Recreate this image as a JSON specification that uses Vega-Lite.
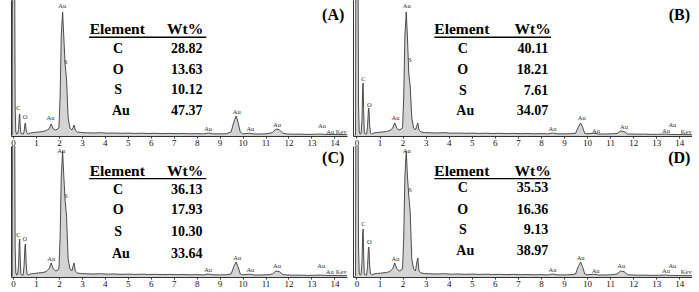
{
"$schema": "https://vega.github.io/schema/vega-lite/v6.json",
"padding": {"left": 10, "top": 0, "right": 0, "bottom": 0},
"background": "white",
"config": {
 "view": {"stroke": null},
 "axisX": {"domainColor": "#333", "tickColor": "#333", "tickSize": 2, "labelFont": "Liberation Serif", "labelFontSize": 9, "labelColor": "#111", "labelPadding": 0, "grid": false, "labelFlush": false, "labelOverlap": false, "tickCount": 15},
 "axisY": {"domainColor": "#333", "ticks": false, "labels": false, "grid": false}
},
"datasets": {
 "spec": [
  {"x": -0.09, "a": 0, "b": 0, "c": 0, "d": 0},
  {"x": -0.04, "a": 1, "b": 1, "c": 1, "d": 1},
  {"x": -0.02, "a": 300, "b": 300, "c": 300, "d": 300},
  {"x": 0.05, "a": 300, "b": 300, "c": 300, "d": 300},
  {"x": 0.09, "a": 30, "b": 30, "c": 30, "d": 30},
  {"x": 0.12, "a": 4, "b": 4, "c": 4, "d": 4},
  {"x": 0.16, "a": 2, "b": 2, "c": 2, "d": 2},
  {"x": 0.2, "a": 2.5, "b": 2.5, "c": 2.5, "d": 2.5},
  {"x": 0.24, "a": 6.6, "b": 15.9, "c": 11.4, "d": 14.4},
  {"x": 0.27, "a": 19.8, "b": 47.7, "c": 34.2, "d": 43.2},
  {"x": 0.29, "a": 22, "b": 53, "c": 38, "d": 48},
  {"x": 0.31, "a": 11, "b": 26.5, "c": 19, "d": 24},
  {"x": 0.34, "a": 3, "b": 3, "c": 3, "d": 3},
  {"x": 0.38, "a": 2, "b": 2, "c": 2, "d": 2},
  {"x": 0.44, "a": 2, "b": 2, "c": 2, "d": 2},
  {"x": 0.48, "a": 4.6, "b": 9.8, "c": 11.6, "d": 10.5},
  {"x": 0.52, "a": 12.4, "b": 26.6, "c": 31.4, "d": 28.5},
  {"x": 0.54, "a": 13, "b": 28, "c": 33, "d": 30},
  {"x": 0.57, "a": 5.2, "b": 11.2, "c": 13.2, "d": 12},
  {"x": 0.61, "a": 3, "b": 3, "c": 3, "d": 3},
  {"x": 0.66, "a": 2, "b": 2, "c": 2, "d": 2},
  {"x": 0.75, "a": 3, "b": 3, "c": 3, "d": 3},
  {"x": 0.9, "a": 3.5, "b": 3.5, "c": 3.5, "d": 3.5},
  {"x": 1.1, "a": 4, "b": 4, "c": 4, "d": 4},
  {"x": 1.3, "a": 4.5, "b": 4.5, "c": 4.5, "d": 4.5},
  {"x": 1.45, "a": 5.5, "b": 5.5, "c": 5.5, "d": 5.5},
  {"x": 1.57, "a": 7.2, "b": 7.8, "c": 8.4, "d": 8.4},
  {"x": 1.66, "a": 12, "b": 13, "c": 14, "d": 14},
  {"x": 1.75, "a": 7.2, "b": 7.8, "c": 8.4, "d": 8.4},
  {"x": 1.85, "a": 6, "b": 6, "c": 6, "d": 6},
  {"x": 1.95, "a": 7, "b": 7, "c": 7, "d": 7},
  {"x": 2.0, "a": 9, "b": 9, "c": 9, "d": 9},
  {"x": 2.05, "a": 40, "b": 40, "c": 40, "d": 40},
  {"x": 2.1, "a": 100, "b": 100, "c": 100, "d": 100},
  {"x": 2.16, "a": 124, "b": 124, "c": 126, "d": 126},
  {"x": 2.21, "a": 99, "b": 99, "c": 101, "d": 101},
  {"x": 2.27, "a": 71, "b": 62, "c": 76, "d": 81},
  {"x": 2.33, "a": 57, "b": 50, "c": 61, "d": 65},
  {"x": 2.4, "a": 18, "b": 18, "c": 18, "d": 18},
  {"x": 2.48, "a": 8, "b": 8, "c": 8, "d": 8},
  {"x": 2.56, "a": 6, "b": 6, "c": 6, "d": 6},
  {"x": 2.62, "a": 8.8, "b": 10.4, "c": 11.2, "d": 15.2},
  {"x": 2.66, "a": 11, "b": 13, "c": 14, "d": 19},
  {"x": 2.71, "a": 6, "b": 6, "c": 6, "d": 6},
  {"x": 2.8, "a": 4, "b": 4, "c": 4, "d": 4},
  {"x": 2.95, "a": 3.5, "b": 3.5, "c": 3.5, "d": 3.5},
  {"x": 3.2, "a": 3.2, "b": 3.2, "c": 3.2, "d": 3.2},
  {"x": 3.5, "a": 3, "b": 3, "c": 3, "d": 3},
  {"x": 3.8, "a": 3.3, "b": 3.3, "c": 3.3, "d": 3.3},
  {"x": 4.1, "a": 2.8, "b": 2.8, "c": 2.8, "d": 2.8},
  {"x": 4.4, "a": 3, "b": 3, "c": 3, "d": 3},
  {"x": 4.7, "a": 2.7, "b": 2.7, "c": 2.7, "d": 2.7},
  {"x": 5.0, "a": 2.9, "b": 2.9, "c": 2.9, "d": 2.9},
  {"x": 5.3, "a": 2.6, "b": 2.6, "c": 2.6, "d": 2.6},
  {"x": 5.6, "a": 2.8, "b": 2.8, "c": 2.8, "d": 2.8},
  {"x": 5.9, "a": 2.5, "b": 2.5, "c": 2.5, "d": 2.5},
  {"x": 6.2, "a": 2.7, "b": 2.7, "c": 2.7, "d": 2.7},
  {"x": 6.5, "a": 2.4, "b": 2.4, "c": 2.4, "d": 2.4},
  {"x": 6.8, "a": 2.6, "b": 2.6, "c": 2.6, "d": 2.6},
  {"x": 7.1, "a": 2.3, "b": 2.3, "c": 2.3, "d": 2.3},
  {"x": 7.4, "a": 2.5, "b": 2.5, "c": 2.5, "d": 2.5},
  {"x": 7.7, "a": 2.2, "b": 2.2, "c": 2.2, "d": 2.2},
  {"x": 8.0, "a": 2.4, "b": 2.4, "c": 2.4, "d": 2.4},
  {"x": 8.3, "a": 2.1, "b": 2.1, "c": 2.1, "d": 2.1},
  {"x": 8.5, "a": 3, "b": 3, "c": 3, "d": 3},
  {"x": 8.7, "a": 2.2, "b": 2.2, "c": 2.2, "d": 2.2},
  {"x": 9.0, "a": 2.1, "b": 2.1, "c": 2.1, "d": 2.1},
  {"x": 9.3, "a": 2.3, "b": 2.3, "c": 2.3, "d": 2.3},
  {"x": 9.5, "a": 4, "b": 2.6, "c": 3, "d": 3},
  {"x": 9.62, "a": 14, "b": 9.1, "c": 10.5, "d": 10.5},
  {"x": 9.72, "a": 20, "b": 13, "c": 15, "d": 15},
  {"x": 9.8, "a": 14, "b": 9.1, "c": 10.5, "d": 10.5},
  {"x": 9.9, "a": 4, "b": 2.6, "c": 3, "d": 3},
  {"x": 10.0, "a": 2.2, "b": 2.2, "c": 2.2, "d": 2.2},
  {"x": 10.3, "a": 2.8, "b": 2.8, "c": 2.8, "d": 2.8},
  {"x": 10.5, "a": 2, "b": 2, "c": 2, "d": 2},
  {"x": 10.8, "a": 2, "b": 2, "c": 2, "d": 2},
  {"x": 11.1, "a": 2.3, "b": 2.3, "c": 2.3, "d": 2.3},
  {"x": 11.3, "a": 3.5, "b": 2.5, "c": 3, "d": 3},
  {"x": 11.45, "a": 7, "b": 5, "c": 6, "d": 6},
  {"x": 11.6, "a": 6.3, "b": 4.5, "c": 5.4, "d": 5.4},
  {"x": 11.75, "a": 2.8, "b": 2, "c": 2.4, "d": 2.4},
  {"x": 11.95, "a": 2, "b": 2, "c": 2, "d": 2},
  {"x": 12.2, "a": 1.8, "b": 1.8, "c": 1.8, "d": 1.8},
  {"x": 12.5, "a": 1.9, "b": 1.9, "c": 1.9, "d": 1.9},
  {"x": 12.8, "a": 1.6, "b": 1.6, "c": 1.6, "d": 1.6},
  {"x": 13.1, "a": 1.7, "b": 1.7, "c": 1.7, "d": 1.7},
  {"x": 13.4, "a": 2, "b": 2, "c": 2, "d": 2},
  {"x": 13.6, "a": 1.6, "b": 1.6, "c": 1.6, "d": 1.6},
  {"x": 13.9, "a": 1.5, "b": 1.5, "c": 1.5, "d": 1.5},
  {"x": 14.2, "a": 1.4, "b": 1.4, "c": 1.4, "d": 1.4},
  {"x": 14.55, "a": 1.3, "b": 1.3, "c": 1.3, "d": 1.3}
 ],
 "lab": [
  {"p": "A", "k": "pk", "x": 0.23, "y": 28, "t": "C"},
  {"p": "A", "k": "pk", "x": 0.52, "y": 19, "t": "O"},
  {"p": "A", "k": "pk", "x": 1.63, "y": 18, "t": "Au"},
  {"p": "A", "k": "pk", "x": 2.14, "y": 130, "t": "Au"},
  {"p": "A", "k": "pk", "x": 2.3, "y": 74, "t": "S"},
  {"p": "A", "k": "pk", "x": 8.5, "y": 7, "t": "Au"},
  {"p": "A", "k": "pk", "x": 9.75, "y": 24, "t": "Au"},
  {"p": "A", "k": "pk", "x": 10.34, "y": 7, "t": "Au"},
  {"p": "A", "k": "pk", "x": 11.5, "y": 11, "t": "Au"},
  {"p": "A", "k": "pk", "x": 13.46, "y": 10, "t": "Au"},
  {"p": "A", "k": "pk", "x": 13.82, "y": 4.5, "t": "Au"},
  {"p": "A", "k": "pk", "x": 14.3, "y": 4.5, "t": "Kev"},
  {"p": "A", "k": "hd", "x": 4.54, "y": 107, "t": "Element"},
  {"p": "A", "k": "hd", "x": 7.5, "y": 107, "t": "Wt%"},
  {"p": "A", "k": "ul", "x": 3.31, "x2": 8.42, "y": 98.7},
  {"p": "A", "k": "cl", "x": 4.58, "y": 87, "t": "C"},
  {"p": "A", "k": "cl", "x": 4.58, "y": 66, "t": "O"},
  {"p": "A", "k": "cl", "x": 4.58, "y": 46, "t": "S"},
  {"p": "A", "k": "cl", "x": 4.7, "y": 25, "t": "Au"},
  {"p": "A", "k": "cr", "x": 8.25, "y": 87, "t": "28.82"},
  {"p": "A", "k": "cr", "x": 8.25, "y": 66, "t": "13.63"},
  {"p": "A", "k": "cr", "x": 8.25, "y": 46, "t": "10.12"},
  {"p": "A", "k": "cr", "x": 8.25, "y": 25, "t": "47.37"},
  {"p": "A", "k": "tg", "x": 13.95, "y": 121, "t": "(A)"},

  {"p": "B", "k": "pk", "x": 0.3, "y": 57, "t": "C"},
  {"p": "B", "k": "pk", "x": 0.56, "y": 31, "t": "O"},
  {"p": "B", "k": "pk", "x": 1.69, "y": 18, "t": "Au"},
  {"p": "B", "k": "pk", "x": 2.18, "y": 130, "t": "Au"},
  {"p": "B", "k": "pk", "x": 2.32, "y": 76, "t": "S"},
  {"p": "B", "k": "pk", "x": 8.5, "y": 7, "t": "Au"},
  {"p": "B", "k": "pk", "x": 9.77, "y": 18, "t": "Au"},
  {"p": "B", "k": "pk", "x": 10.39, "y": 5, "t": "Au"},
  {"p": "B", "k": "pk", "x": 11.6, "y": 9, "t": "Au"},
  {"p": "B", "k": "pk", "x": 13.42, "y": 5, "t": "Au"},
  {"p": "B", "k": "pk", "x": 13.7, "y": 11, "t": "Au"},
  {"p": "B", "k": "pk", "x": 14.3, "y": 4, "t": "Kev"},
  {"p": "B", "k": "hd", "x": 4.57, "y": 107, "t": "Element"},
  {"p": "B", "k": "hd", "x": 7.64, "y": 107, "t": "Wt%"},
  {"p": "B", "k": "ul", "x": 3.38, "x2": 8.44, "y": 98.7},
  {"p": "B", "k": "cl", "x": 4.61, "y": 87.5, "t": "C"},
  {"p": "B", "k": "cl", "x": 4.61, "y": 66, "t": "O"},
  {"p": "B", "k": "cl", "x": 4.61, "y": 45.5, "t": "S"},
  {"p": "B", "k": "cl", "x": 4.72, "y": 25, "t": "Au"},
  {"p": "B", "k": "cr", "x": 8.32, "y": 87.5, "t": "40.11"},
  {"p": "B", "k": "cr", "x": 8.32, "y": 66, "t": "18.21"},
  {"p": "B", "k": "cr", "x": 8.32, "y": 45.5, "t": "7.61"},
  {"p": "B", "k": "cr", "x": 8.32, "y": 25, "t": "34.07"},
  {"p": "B", "k": "tg", "x": 14.0, "y": 121, "t": "(B)"},

  {"p": "C", "k": "pk", "x": 0.23, "y": 42, "t": "C"},
  {"p": "C", "k": "pk", "x": 0.51, "y": 38, "t": "O"},
  {"p": "C", "k": "pk", "x": 1.66, "y": 18, "t": "Au"},
  {"p": "C", "k": "pk", "x": 2.1, "y": 126, "t": "Au"},
  {"p": "C", "k": "pk", "x": 2.31, "y": 81, "t": "S"},
  {"p": "C", "k": "pk", "x": 8.5, "y": 7, "t": "Au"},
  {"p": "C", "k": "pk", "x": 9.77, "y": 19, "t": "Au"},
  {"p": "C", "k": "pk", "x": 10.34, "y": 7, "t": "Au"},
  {"p": "C", "k": "pk", "x": 11.5, "y": 11, "t": "Au"},
  {"p": "C", "k": "pk", "x": 13.43, "y": 11, "t": "Au"},
  {"p": "C", "k": "pk", "x": 13.8, "y": 5, "t": "Au"},
  {"p": "C", "k": "pk", "x": 14.3, "y": 5, "t": "Kev"},
  {"p": "C", "k": "hd", "x": 4.54, "y": 105.7, "t": "Element"},
  {"p": "C", "k": "hd", "x": 7.5, "y": 105.7, "t": "Wt%"},
  {"p": "C", "k": "ul", "x": 3.31, "x2": 8.42, "y": 98.4},
  {"p": "C", "k": "cl", "x": 4.58, "y": 87.4, "t": "C"},
  {"p": "C", "k": "cl", "x": 4.58, "y": 66.7, "t": "O"},
  {"p": "C", "k": "cl", "x": 4.58, "y": 44.7, "t": "S"},
  {"p": "C", "k": "cl", "x": 4.7, "y": 23.4, "t": "Au"},
  {"p": "C", "k": "cr", "x": 8.25, "y": 87.4, "t": "36.13"},
  {"p": "C", "k": "cr", "x": 8.25, "y": 66.7, "t": "17.93"},
  {"p": "C", "k": "cr", "x": 8.25, "y": 44.7, "t": "10.30"},
  {"p": "C", "k": "cr", "x": 8.25, "y": 23.4, "t": "33.64"},
  {"p": "C", "k": "tg", "x": 13.95, "y": 119, "t": "(C)"},

  {"p": "D", "k": "pk", "x": 0.3, "y": 53, "t": "C"},
  {"p": "D", "k": "pk", "x": 0.56, "y": 35, "t": "O"},
  {"p": "D", "k": "pk", "x": 1.69, "y": 18, "t": "Au"},
  {"p": "D", "k": "pk", "x": 2.18, "y": 126, "t": "Au"},
  {"p": "D", "k": "pk", "x": 2.32, "y": 87, "t": "S"},
  {"p": "D", "k": "pk", "x": 8.5, "y": 7, "t": "Au"},
  {"p": "D", "k": "pk", "x": 9.72, "y": 19, "t": "Au"},
  {"p": "D", "k": "pk", "x": 10.37, "y": 6, "t": "Au"},
  {"p": "D", "k": "pk", "x": 11.48, "y": 11, "t": "Au"},
  {"p": "D", "k": "pk", "x": 13.42, "y": 6, "t": "Au"},
  {"p": "D", "k": "pk", "x": 13.7, "y": 11, "t": "Au"},
  {"p": "D", "k": "pk", "x": 14.3, "y": 5, "t": "Kev"},
  {"p": "D", "k": "hd", "x": 4.57, "y": 105.7, "t": "Element"},
  {"p": "D", "k": "hd", "x": 7.64, "y": 105.7, "t": "Wt%"},
  {"p": "D", "k": "ul", "x": 3.38, "x2": 8.44, "y": 98.4},
  {"p": "D", "k": "cl", "x": 4.61, "y": 89, "t": "C"},
  {"p": "D", "k": "cl", "x": 4.61, "y": 67, "t": "O"},
  {"p": "D", "k": "cl", "x": 4.61, "y": 46.7, "t": "S"},
  {"p": "D", "k": "cl", "x": 4.72, "y": 26.4, "t": "Au"},
  {"p": "D", "k": "cr", "x": 8.32, "y": 89, "t": "35.53"},
  {"p": "D", "k": "cr", "x": 8.32, "y": 67, "t": "16.36"},
  {"p": "D", "k": "cr", "x": 8.32, "y": 46.7, "t": "9.13"},
  {"p": "D", "k": "cr", "x": 8.32, "y": 26.4, "t": "38.97"},
  {"p": "D", "k": "tg", "x": 14.0, "y": 119, "t": "(D)"}
 ]
},
"columns": 2,
"spacing": {"row": 10, "column": 6},
"bounds": "flush",
"concat": [
 {"width": 336, "height": 136, "layer": [
  {"data": {"name": "spec"}, "mark": {"type": "area", "clip": true, "color": "#c2c2c2", "line": {"color": "#3a3a3a", "strokeWidth": 0.9}},
   "encoding": {"x": {"field": "x", "type": "quantitative", "title": null, "scale": {"domain": [-0.09, 14.55], "nice": false, "zero": false}, "axis": {"values": [0,1,2,3,4,5,6,7,8,9,10,11,12,13,14], "labelOverlap": false}},
                "y": {"field": "a", "type": "quantitative", "title": null, "scale": {"domain": [0, 136], "nice": false}}}},
  {"data": {"name": "lab"}, "transform": [{"filter": "datum.p == 'A' && datum.k == 'pk'"}], "mark": {"type": "text", "font": "Liberation Serif", "fontSize": 6.5, "fill": "#333"},
   "encoding": {"x": {"field": "x", "type": "quantitative", "title": null, "axis": {"values": [0,1,2,3,4,5,6,7,8,9,10,11,12,13,14], "labelOverlap": false}}, "y": {"field": "y", "type": "quantitative", "title": null}, "text": {"field": "t"}}},
  {"data": {"name": "lab"}, "transform": [{"filter": "datum.p == 'A' && datum.k == 'hd'"}], "mark": {"type": "text", "font": "Liberation Serif", "fontWeight": "bold", "fontSize": 15.5, "color": "#000"},
   "encoding": {"x": {"field": "x", "type": "quantitative", "title": null, "axis": {"values": [0,1,2,3,4,5,6,7,8,9,10,11,12,13,14], "labelOverlap": false}}, "y": {"field": "y", "type": "quantitative", "title": null}, "text": {"field": "t"}}},
  {"data": {"name": "lab"}, "transform": [{"filter": "datum.p == 'A' && datum.k == 'ul'"}], "mark": {"type": "rule", "color": "#000", "strokeWidth": 1.4},
   "encoding": {"x": {"field": "x", "type": "quantitative", "title": null, "axis": {"values": [0,1,2,3,4,5,6,7,8,9,10,11,12,13,14], "labelOverlap": false}}, "x2": {"field": "x2"}, "y": {"field": "y", "type": "quantitative", "title": null}}},
  {"data": {"name": "lab"}, "transform": [{"filter": "datum.p == 'A' && datum.k == 'cl'"}], "mark": {"type": "text", "font": "Liberation Serif", "fontWeight": "bold", "fontSize": 14, "color": "#000", "align": "center"},
   "encoding": {"x": {"field": "x", "type": "quantitative", "title": null, "axis": {"values": [0,1,2,3,4,5,6,7,8,9,10,11,12,13,14], "labelOverlap": false}}, "y": {"field": "y", "type": "quantitative", "title": null}, "text": {"field": "t"}}},
  {"data": {"name": "lab"}, "transform": [{"filter": "datum.p == 'A' && datum.k == 'cr'"}], "mark": {"type": "text", "font": "Liberation Serif", "fontWeight": "bold", "fontSize": 14, "color": "#000", "align": "right"},
   "encoding": {"x": {"field": "x", "type": "quantitative", "title": null, "axis": {"values": [0,1,2,3,4,5,6,7,8,9,10,11,12,13,14], "labelOverlap": false}}, "y": {"field": "y", "type": "quantitative", "title": null}, "text": {"field": "t"}}},
  {"data": {"name": "lab"}, "transform": [{"filter": "datum.p == 'A' && datum.k == 'tg'"}], "mark": {"type": "text", "font": "Liberation Serif", "fontWeight": "bold", "fontSize": 16, "color": "#000"},
   "encoding": {"x": {"field": "x", "type": "quantitative", "title": null, "axis": {"values": [0,1,2,3,4,5,6,7,8,9,10,11,12,13,14], "labelOverlap": false}}, "y": {"field": "y", "type": "quantitative", "title": null}, "text": {"field": "t"}}}
 ]},
 {"width": 339, "height": 136, "layer": [
  {"data": {"name": "spec"}, "mark": {"type": "area", "clip": true, "color": "#c2c2c2", "line": {"color": "#3a3a3a", "strokeWidth": 0.9}},
   "encoding": {"x": {"field": "x", "type": "quantitative", "title": null, "scale": {"domain": [-0.15, 14.55], "nice": false, "zero": false}, "axis": {"values": [0,1,2,3,4,5,6,7,8,9,10,11,12,13,14], "labelOverlap": false}},
                "y": {"field": "b", "type": "quantitative", "title": null, "scale": {"domain": [0, 136], "nice": false}}}},
  {"data": {"name": "lab"}, "transform": [{"filter": "datum.p == 'B' && datum.k == 'pk'"}], "mark": {"type": "text", "font": "Liberation Serif", "fontSize": 6.5, "fill": "#333"},
   "encoding": {"x": {"field": "x", "type": "quantitative", "title": null, "axis": {"values": [0,1,2,3,4,5,6,7,8,9,10,11,12,13,14], "labelOverlap": false}}, "y": {"field": "y", "type": "quantitative", "title": null}, "text": {"field": "t"}}},
  {"data": {"name": "lab"}, "transform": [{"filter": "datum.p == 'B' && datum.k == 'hd'"}], "mark": {"type": "text", "font": "Liberation Serif", "fontWeight": "bold", "fontSize": 15.5, "color": "#000"},
   "encoding": {"x": {"field": "x", "type": "quantitative", "title": null, "axis": {"values": [0,1,2,3,4,5,6,7,8,9,10,11,12,13,14], "labelOverlap": false}}, "y": {"field": "y", "type": "quantitative", "title": null}, "text": {"field": "t"}}},
  {"data": {"name": "lab"}, "transform": [{"filter": "datum.p == 'B' && datum.k == 'ul'"}], "mark": {"type": "rule", "color": "#000", "strokeWidth": 1.4},
   "encoding": {"x": {"field": "x", "type": "quantitative", "title": null, "axis": {"values": [0,1,2,3,4,5,6,7,8,9,10,11,12,13,14], "labelOverlap": false}}, "x2": {"field": "x2"}, "y": {"field": "y", "type": "quantitative", "title": null}}},
  {"data": {"name": "lab"}, "transform": [{"filter": "datum.p == 'B' && datum.k == 'cl'"}], "mark": {"type": "text", "font": "Liberation Serif", "fontWeight": "bold", "fontSize": 14, "color": "#000", "align": "center"},
   "encoding": {"x": {"field": "x", "type": "quantitative", "title": null, "axis": {"values": [0,1,2,3,4,5,6,7,8,9,10,11,12,13,14], "labelOverlap": false}}, "y": {"field": "y", "type": "quantitative", "title": null}, "text": {"field": "t"}}},
  {"data": {"name": "lab"}, "transform": [{"filter": "datum.p == 'B' && datum.k == 'cr'"}], "mark": {"type": "text", "font": "Liberation Serif", "fontWeight": "bold", "fontSize": 14, "color": "#000", "align": "right"},
   "encoding": {"x": {"field": "x", "type": "quantitative", "title": null, "axis": {"values": [0,1,2,3,4,5,6,7,8,9,10,11,12,13,14], "labelOverlap": false}}, "y": {"field": "y", "type": "quantitative", "title": null}, "text": {"field": "t"}}},
  {"data": {"name": "lab"}, "transform": [{"filter": "datum.p == 'B' && datum.k == 'tg'"}], "mark": {"type": "text", "font": "Liberation Serif", "fontWeight": "bold", "fontSize": 16, "color": "#000"},
   "encoding": {"x": {"field": "x", "type": "quantitative", "title": null, "axis": {"values": [0,1,2,3,4,5,6,7,8,9,10,11,12,13,14], "labelOverlap": false}}, "y": {"field": "y", "type": "quantitative", "title": null}, "text": {"field": "t"}}}
 ]},
 {"width": 336, "height": 131, "layer": [
  {"data": {"name": "spec"}, "mark": {"type": "area", "clip": true, "color": "#c2c2c2", "line": {"color": "#3a3a3a", "strokeWidth": 0.9}},
   "encoding": {"x": {"field": "x", "type": "quantitative", "title": null, "scale": {"domain": [-0.09, 14.55], "nice": false, "zero": false}, "axis": {"values": [0,1,2,3,4,5,6,7,8,9,10,11,12,13,14], "labelOverlap": false}},
                "y": {"field": "c", "type": "quantitative", "title": null, "scale": {"domain": [0, 131], "nice": false}}}},
  {"data": {"name": "lab"}, "transform": [{"filter": "datum.p == 'C' && datum.k == 'pk'"}], "mark": {"type": "text", "font": "Liberation Serif", "fontSize": 6.5, "fill": "#333"},
   "encoding": {"x": {"field": "x", "type": "quantitative", "title": null, "axis": {"values": [0,1,2,3,4,5,6,7,8,9,10,11,12,13,14], "labelOverlap": false}}, "y": {"field": "y", "type": "quantitative", "title": null}, "text": {"field": "t"}}},
  {"data": {"name": "lab"}, "transform": [{"filter": "datum.p == 'C' && datum.k == 'hd'"}], "mark": {"type": "text", "font": "Liberation Serif", "fontWeight": "bold", "fontSize": 15.5, "color": "#000"},
   "encoding": {"x": {"field": "x", "type": "quantitative", "title": null, "axis": {"values": [0,1,2,3,4,5,6,7,8,9,10,11,12,13,14], "labelOverlap": false}}, "y": {"field": "y", "type": "quantitative", "title": null}, "text": {"field": "t"}}},
  {"data": {"name": "lab"}, "transform": [{"filter": "datum.p == 'C' && datum.k == 'ul'"}], "mark": {"type": "rule", "color": "#000", "strokeWidth": 1.4},
   "encoding": {"x": {"field": "x", "type": "quantitative", "title": null, "axis": {"values": [0,1,2,3,4,5,6,7,8,9,10,11,12,13,14], "labelOverlap": false}}, "x2": {"field": "x2"}, "y": {"field": "y", "type": "quantitative", "title": null}}},
  {"data": {"name": "lab"}, "transform": [{"filter": "datum.p == 'C' && datum.k == 'cl'"}], "mark": {"type": "text", "font": "Liberation Serif", "fontWeight": "bold", "fontSize": 14, "color": "#000", "align": "center"},
   "encoding": {"x": {"field": "x", "type": "quantitative", "title": null, "axis": {"values": [0,1,2,3,4,5,6,7,8,9,10,11,12,13,14], "labelOverlap": false}}, "y": {"field": "y", "type": "quantitative", "title": null}, "text": {"field": "t"}}},
  {"data": {"name": "lab"}, "transform": [{"filter": "datum.p == 'C' && datum.k == 'cr'"}], "mark": {"type": "text", "font": "Liberation Serif", "fontWeight": "bold", "fontSize": 14, "color": "#000", "align": "right"},
   "encoding": {"x": {"field": "x", "type": "quantitative", "title": null, "axis": {"values": [0,1,2,3,4,5,6,7,8,9,10,11,12,13,14], "labelOverlap": false}}, "y": {"field": "y", "type": "quantitative", "title": null}, "text": {"field": "t"}}},
  {"data": {"name": "lab"}, "transform": [{"filter": "datum.p == 'C' && datum.k == 'tg'"}], "mark": {"type": "text", "font": "Liberation Serif", "fontWeight": "bold", "fontSize": 16, "color": "#000"},
   "encoding": {"x": {"field": "x", "type": "quantitative", "title": null, "axis": {"values": [0,1,2,3,4,5,6,7,8,9,10,11,12,13,14], "labelOverlap": false}}, "y": {"field": "y", "type": "quantitative", "title": null}, "text": {"field": "t"}}}
 ]},
 {"width": 339, "height": 131, "layer": [
  {"data": {"name": "spec"}, "mark": {"type": "area", "clip": true, "color": "#c2c2c2", "line": {"color": "#3a3a3a", "strokeWidth": 0.9}},
   "encoding": {"x": {"field": "x", "type": "quantitative", "title": null, "scale": {"domain": [-0.15, 14.55], "nice": false, "zero": false}, "axis": {"values": [0,1,2,3,4,5,6,7,8,9,10,11,12,13,14], "labelOverlap": false}},
                "y": {"field": "d", "type": "quantitative", "title": null, "scale": {"domain": [0, 131], "nice": false}}}},
  {"data": {"name": "lab"}, "transform": [{"filter": "datum.p == 'D' && datum.k == 'pk'"}], "mark": {"type": "text", "font": "Liberation Serif", "fontSize": 6.5, "fill": "#333"},
   "encoding": {"x": {"field": "x", "type": "quantitative", "title": null, "axis": {"values": [0,1,2,3,4,5,6,7,8,9,10,11,12,13,14], "labelOverlap": false}}, "y": {"field": "y", "type": "quantitative", "title": null}, "text": {"field": "t"}}},
  {"data": {"name": "lab"}, "transform": [{"filter": "datum.p == 'D' && datum.k == 'hd'"}], "mark": {"type": "text", "font": "Liberation Serif", "fontWeight": "bold", "fontSize": 15.5, "color": "#000"},
   "encoding": {"x": {"field": "x", "type": "quantitative", "title": null, "axis": {"values": [0,1,2,3,4,5,6,7,8,9,10,11,12,13,14], "labelOverlap": false}}, "y": {"field": "y", "type": "quantitative", "title": null}, "text": {"field": "t"}}},
  {"data": {"name": "lab"}, "transform": [{"filter": "datum.p == 'D' && datum.k == 'ul'"}], "mark": {"type": "rule", "color": "#000", "strokeWidth": 1.4},
   "encoding": {"x": {"field": "x", "type": "quantitative", "title": null, "axis": {"values": [0,1,2,3,4,5,6,7,8,9,10,11,12,13,14], "labelOverlap": false}}, "x2": {"field": "x2"}, "y": {"field": "y", "type": "quantitative", "title": null}}},
  {"data": {"name": "lab"}, "transform": [{"filter": "datum.p == 'D' && datum.k == 'cl'"}], "mark": {"type": "text", "font": "Liberation Serif", "fontWeight": "bold", "fontSize": 14, "color": "#000", "align": "center"},
   "encoding": {"x": {"field": "x", "type": "quantitative", "title": null, "axis": {"values": [0,1,2,3,4,5,6,7,8,9,10,11,12,13,14], "labelOverlap": false}}, "y": {"field": "y", "type": "quantitative", "title": null}, "text": {"field": "t"}}},
  {"data": {"name": "lab"}, "transform": [{"filter": "datum.p == 'D' && datum.k == 'cr'"}], "mark": {"type": "text", "font": "Liberation Serif", "fontWeight": "bold", "fontSize": 14, "color": "#000", "align": "right"},
   "encoding": {"x": {"field": "x", "type": "quantitative", "title": null, "axis": {"values": [0,1,2,3,4,5,6,7,8,9,10,11,12,13,14], "labelOverlap": false}}, "y": {"field": "y", "type": "quantitative", "title": null}, "text": {"field": "t"}}},
  {"data": {"name": "lab"}, "transform": [{"filter": "datum.p == 'D' && datum.k == 'tg'"}], "mark": {"type": "text", "font": "Liberation Serif", "fontWeight": "bold", "fontSize": 16, "color": "#000"},
   "encoding": {"x": {"field": "x", "type": "quantitative", "title": null, "axis": {"values": [0,1,2,3,4,5,6,7,8,9,10,11,12,13,14], "labelOverlap": false}}, "y": {"field": "y", "type": "quantitative", "title": null}, "text": {"field": "t"}}}
 ]}
]
}
